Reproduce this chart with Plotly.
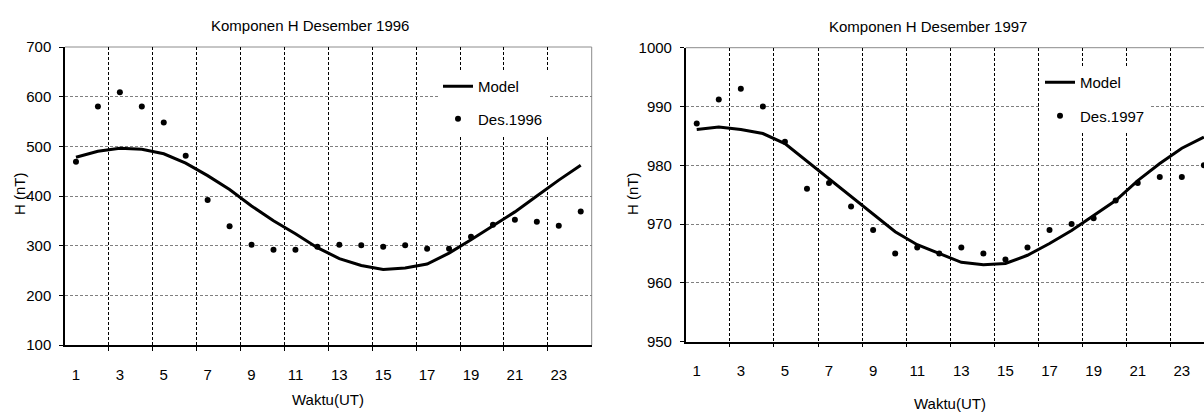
import plotly.graph_objects as go

# ---------------- data ----------------
hours = list(range(1, 25))
tick_hours = list(range(1, 24, 2))
tick_labels = [str(h) for h in tick_hours]
grid_hours = [h + 1.5 for h in range(1, 23, 2)]  # category boundaries 2.5 ... 22.5

model_1996 = [478, 490, 496, 494, 485, 466, 441, 413, 380, 350, 324, 296,
              274, 260, 252, 255, 263, 285, 312, 340, 368, 400, 432, 462]
obs_1996 = [469, 580, 609, 580, 548, 481, 392, 339, 302, 292, 292, 298,
            302, 301, 298, 301, 294, 294, 318, 342, 352, 348, 340, 369]

model_1997 = [986.1, 986.5, 986.1, 985.4, 983.7, 980.7, 977.8, 974.8, 971.8, 968.7, 966.5, 965.0,
              963.5, 963.1, 963.3, 964.7, 966.7, 968.9, 971.5, 974.0, 977.4, 980.3, 982.9, 984.8]
obs_1997 = [987.1, 991.2, 993, 990, 984, 976, 977, 973, 969, 965, 966, 965,
            966, 965, 964, 966, 969, 970, 971, 974, 977, 978, 978, 980]

y1_ticks = [100, 200, 300, 400, 500, 600, 700]
y2_ticks = [950, 960, 970, 980, 990, 1000]

titles = ["Komponen H Desember 1996", "Komponen H Desember 1997"]
x_title = "Waktu(UT)"
y_title = "H (nT)"
legend_names_1 = ["Model", "Des.1996"]
legend_names_2 = ["Model", "Des.1997"]

# ---------------- layout helpers ----------------
W, H = 1204, 412
FONT = "Liberation Sans, Arial, sans-serif"


def px(v):
    return v / W


def py(v):
    return 1 - v / H


fig = go.Figure()

fig.add_trace(go.Scatter(x=hours, y=model_1996, mode="lines", name=legend_names_1[0],
                         line=dict(color="black", width=3), xaxis="x", yaxis="y",
                         legend="legend", legendgroup="a"))
fig.add_trace(go.Scatter(x=hours, y=obs_1996, mode="markers", name=legend_names_1[1],
                         marker=dict(color="black", size=6), xaxis="x", yaxis="y",
                         legend="legend", legendgroup="b"))
fig.add_trace(go.Scatter(x=hours, y=model_1997, mode="lines", name=legend_names_2[0],
                         line=dict(color="black", width=3), xaxis="x2", yaxis="y2",
                         legend="legend2", legendgroup="c"))
fig.add_trace(go.Scatter(x=hours, y=obs_1997, mode="markers", name=legend_names_2[1],
                         marker=dict(color="black", size=6), xaxis="x2", yaxis="y2",
                         legend="legend2", legendgroup="d", cliponaxis=False))


def xaxis_cfg(domain, rng, anchor):
    return dict(
        domain=domain, range=rng, anchor=anchor,
        tickmode="array", tickvals=tick_hours, ticktext=tick_labels,
        ticks="", showgrid=False, zeroline=False,
        showline=True, linecolor="black", linewidth=1.5,
        tickfont=dict(size=15, color="black", family=FONT),
        ticklabelstandoff=15,
        minor=dict(tickmode="array", tickvals=grid_hours, ticks="outside", ticklen=4,
                   tickcolor="black", tickwidth=1,
                   showgrid=True, gridcolor="black", gridwidth=1, griddash="3px,2px"),
        automargin=False, fixedrange=True,
    )


def yaxis_cfg(domain, rng, ticks, anchor):
    return dict(
        domain=domain, range=rng, anchor=anchor,
        tickmode="array", tickvals=ticks,
        ticks="outside", ticklen=4, tickcolor="black",
        showgrid=True, gridcolor="#808080", gridwidth=1, griddash="3px,2px",
        zeroline=False, showline=True, linecolor="black", linewidth=1.5,
        tickfont=dict(size=15, color="black", family=FONT),
        ticklabelstandoff=5,
        automargin=False, fixedrange=True,
    )


x2_right = 0.5 + (W - 685.7) / 22.05

fig.update_layout(
    width=W, height=H, autosize=False,
    margin=dict(l=0, r=0, t=0, b=0),
    paper_bgcolor="white", plot_bgcolor="white",
    font=dict(family=FONT, size=15, color="black"),
    xaxis=xaxis_cfg([px(65), px(591.7)], [0.5, 24.5], "y"),
    yaxis=yaxis_cfg([py(345), py(47)], [100, 700], y1_ticks, "x"),
    xaxis2=xaxis_cfg([px(685.7), 1.0], [0.5, x2_right], "y2"),
    yaxis2=yaxis_cfg([py(341.7), py(47.7)], [950, 1000], y2_ticks, "x2"),
    legend=dict(x=px(438), y=py(70), xanchor="left", yanchor="top",
                bgcolor="white", borderwidth=0, tracegroupgap=10,
                font=dict(size=15, family=FONT, color="black")),
    legend2=dict(x=px(1040), y=py(66), xanchor="left", yanchor="top",
                 bgcolor="white", borderwidth=0, tracegroupgap=11,
                 font=dict(size=15, family=FONT, color="black")),
    showlegend=True,
)

# plot-area borders (gray top/right)
border = dict(color="#8c8c8c", width=1)
fig.add_shape(type="line", xref="x domain", yref="y domain", x0=0, x1=1, y0=1, y1=1, line=border, layer="below")
fig.add_shape(type="line", xref="x domain", yref="y domain", x0=1, x1=1, y0=0, y1=1, line=border, layer="below")
fig.add_shape(type="line", xref="x2 domain", yref="y2 domain", x0=0, x1=1, y0=1, y1=1, line=border, layer="below")

# titles and axis titles
ann = [
    dict(text=titles[0], x=px(310), y=py(26)),
    dict(text=titles[1], x=px(928), y=py(27)),
    dict(text=x_title, x=px(328), y=py(399)),
    dict(text=x_title, x=px(950), y=py(403)),
    dict(text=y_title, x=px(19), y=py(194), textangle=-90),
    dict(text=y_title, x=px(632), y=py(194), textangle=-90),
]
for a in ann:
    fig.add_annotation(xref="paper", yref="paper", showarrow=False,
                       xanchor="center", yanchor="middle",
                       font=dict(size=15, family=FONT, color="black"), **a)

fig.write_html("out.html", config={"displayModeBar": False},
               post_script="document.body.style.margin='0px';document.body.style.overflow='hidden';")
